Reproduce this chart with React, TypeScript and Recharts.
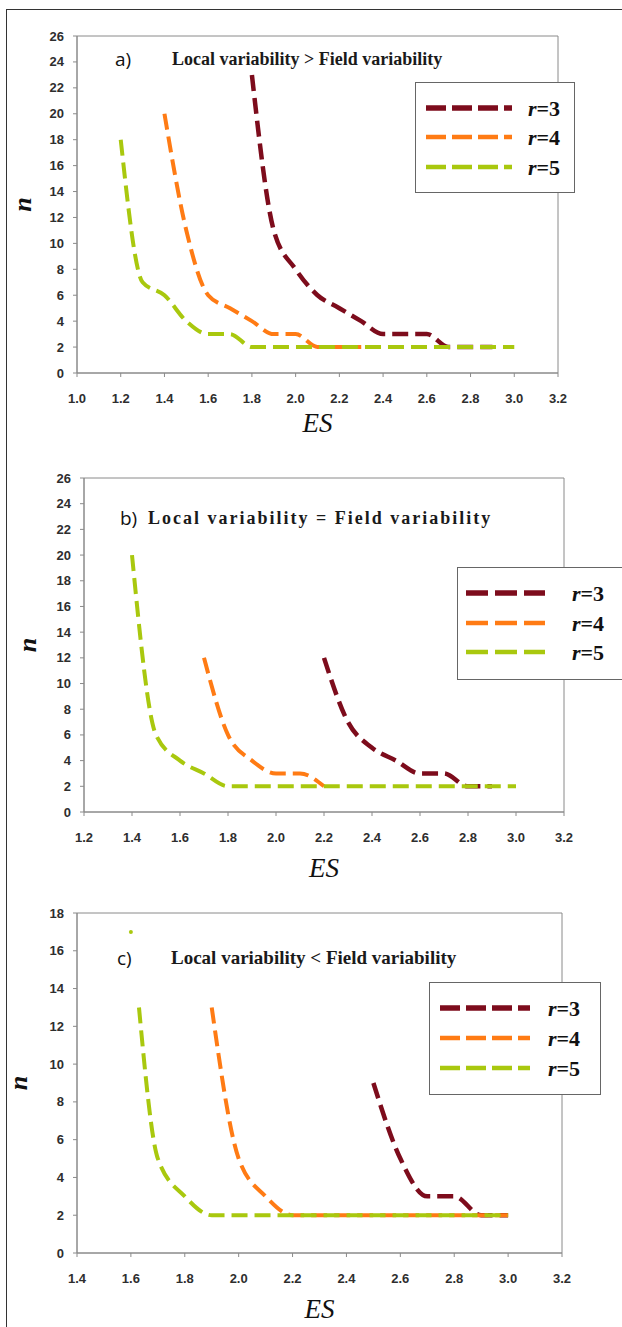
import * as React from "react";
import { LineChart, Line, XAxis, YAxis, ReferenceArea, Legend } from "recharts";

// panel a) Local variability > Field variability
const esA3 = [1.8, 1.9, 2.0, 2.1, 2.2, 2.3, 2.4, 2.5, 2.6, 2.7, 2.8, 2.9];
const nA3 = [23, 11, 8, 6, 5, 4, 3, 3, 3, 2, 2, 2];
const esA4 = [1.4, 1.5, 1.6, 1.7, 1.8, 1.9, 2.0, 2.1, 2.2, 2.3];
const nA4 = [20, 11, 6, 5, 4, 3, 3, 2, 2, 2];
const esA5 = [1.2, 1.3, 1.4, 1.5, 1.6, 1.7, 1.8, 1.9, 2.0, 2.1, 2.2, 2.3, 2.4, 2.5, 2.6, 2.7, 2.8, 2.9, 3.0];
const nA5 = [18, 7, 6, 4, 3, 3, 2, 2, 2, 2, 2, 2, 2, 2, 2, 2, 2, 2, 2];

// panel b) Local variability = Field variability
const esB3 = [2.2, 2.3, 2.4, 2.5, 2.6, 2.7, 2.8, 2.9];
const nB3 = [12, 7, 5, 4, 3, 3, 2, 2];
const esB4 = [1.7, 1.8, 1.9, 2.0, 2.1, 2.2];
const nB4 = [12, 6, 4, 3, 3, 2];
const esB5 = [1.4, 1.5, 1.6, 1.7, 1.8, 1.9, 2.0, 2.1, 2.2, 2.3, 2.4, 2.5, 2.6, 2.7, 2.8, 2.9, 3.0];
const nB5 = [20, 6, 4, 3, 2, 2, 2, 2, 2, 2, 2, 2, 2, 2, 2, 2, 2];

// panel c) Local variability < Field variability
const esC3 = [2.5, 2.6, 2.7, 2.8, 2.9, 3.0];
const nC3 = [9, 5, 3, 3, 2, 2];
const esC4 = [1.9, 2.0, 2.1, 2.2, 2.3, 2.4, 2.5, 2.6, 2.7, 2.8, 2.9, 3.0];
const nC4 = [13, 5, 3, 2, 2, 2, 2, 2, 2, 2, 2, 2];
const esC5 = [1.63, 1.7, 1.8, 1.9, 2.0, 2.1, 2.2, 2.3, 2.4, 2.5, 2.6, 2.7, 2.8, 2.9, 3.0];
const nC5 = [13, 5, 3, 2, 2, 2, 2, 2, 2, 2, 2, 2, 2, 2, 2];
const esC5dot = [1.6];
const nC5dot = [17];

const xTicksA = [1.0, 1.2, 1.4, 1.6, 1.8, 2.0, 2.2, 2.4, 2.6, 2.8, 3.0, 3.2];
const xTicksB = [1.2, 1.4, 1.6, 1.8, 2.0, 2.2, 2.4, 2.6, 2.8, 3.0, 3.2];
const xTicksC = [1.4, 1.6, 1.8, 2.0, 2.2, 2.4, 2.6, 2.8, 3.0, 3.2];
const yTicks26 = [0, 2, 4, 6, 8, 10, 12, 14, 16, 18, 20, 22, 24, 26];
const yTicks18 = [0, 2, 4, 6, 8, 10, 12, 14, 16, 18];

const seriesNames = ["r=3", "r=4", "r=5"];

const RED = "#7d0c1c";
const ORANGE = "#ff7b14";
const GREEN = "#a9c80e";
const AXIS = "#8a8a8a";
const SERIF = "'Liberation Serif', 'Times New Roman', serif";

const toPts = (es: number[], n: number[]) => es.map((e, i) => ({ es: e, n: n[i] }));

// bold grey tick labels like the original
const Tick = (props: any) => {
  const { x, y, payload, textAnchor, fmt } = props;
  const isX = textAnchor === "middle";
  return (
    <text x={x} y={y} dy={isX ? 9 : 0} textAnchor={textAnchor} dominantBaseline="central"
      fontFamily="'Liberation Sans', Arial, sans-serif" fontWeight="bold" fontSize={13} fill="#2e2e2e">
      {fmt ? fmt(payload.value) : payload.value}
    </text>
  );
};

function makeLegend(cfg: { w: number; h: number; rows: number[]; x1: number; x2: number; tx: number; dash: string }) {
  return (props: any) => {
    const items = (props.payload || []).filter((p: any) => p.type !== "none");
    return (
      <svg width={cfg.w} height={cfg.h} style={{ display: "block" }}>
        <rect x={0.5} y={0.5} width={cfg.w - 1} height={cfg.h - 1} fill="#fff" stroke="#666" />
        {items.map((p: any, i: number) => (
          <g key={p.value}>
            <line x1={cfg.x1} x2={cfg.x2} y1={cfg.rows[i]} y2={cfg.rows[i]} stroke={p.color}
              strokeWidth={i === 0 ? 5.5 : 4.5} strokeDasharray={cfg.dash} />
            <text x={cfg.tx} y={cfg.rows[i]} dominantBaseline="central" fontSize={22} fontWeight="bold"
              fontFamily={SERIF} fill="#111">
              <tspan fontStyle="italic">{p.value.slice(0, 1)}</tspan>{p.value.slice(1)}
            </text>
          </g>
        ))}
      </svg>
    );
  };
}

interface PanelProps {
  top: number;
  height: number;
  margin: { top: number; right: number; bottom: number; left: number };
  yWidth: number;
  xHeight: number;
  xTicks: number[];
  yTicks: number[];
  lines: { es: number[]; n: number[] }[];
  extraDot?: { es: number[]; n: number[] };
  legend: { left: number; top: number; w: number; h: number; rows: number[]; x1: number; x2: number; tx: number; dash: string };
  nX: number;
  esBase: number;
  tag: string;
  tagX: number;
  title: string;
  titleX: number;
  titleY: number;
  titleSize: number;
  titleSpacing: number;
}

const WIDTH = 622;

const Panel = (p: PanelProps) => {
  const plotH = p.height - p.margin.top - p.margin.bottom - p.xHeight;
  const plotW = WIDTH - p.margin.left - p.margin.right - p.yWidth;
  const cy = p.margin.top + plotH / 2;
  const cx = p.margin.left + p.yWidth + plotW / 2;
  const colors = [RED, ORANGE, GREEN];
  const xMin = p.xTicks[0];
  const xMax = p.xTicks[p.xTicks.length - 1];
  const yMax = p.yTicks[p.yTicks.length - 1];
  return (
    <div style={{ position: "absolute", left: 0, top: p.top, width: WIDTH, height: p.height }}>
      <LineChart width={WIDTH} height={p.height} margin={p.margin}>
        <XAxis type="number" dataKey="es" domain={[xMin, xMax]} ticks={p.xTicks}
          stroke={AXIS} tickSize={4} tickMargin={12}
          tick={<Tick fmt={(v: number) => v.toFixed(1)} />} height={p.xHeight} interval={0}
          label={{
            content: () => (
              <text x={cx} y={p.esBase} textAnchor="middle" fontSize={27} fontStyle="italic"
                fontFamily={SERIF} fill="#111">ES</text>
            ),
          }} />
        <YAxis type="number" domain={[0, yMax]} ticks={p.yTicks} stroke={AXIS} tickSize={4}
          tickMargin={9} tick={<Tick />} width={p.yWidth} interval={0}
          label={{
            content: () => (
              <text x={p.nX} y={cy} transform={`rotate(-90 ${p.nX} ${cy})`} textAnchor="middle"
                dominantBaseline="central" fontSize={26} fontStyle="italic" fontWeight={700}
                fontFamily={SERIF} fill="#111">n</text>
            ),
          }} />
        <ReferenceArea x1={xMin} x2={xMax} y1={0} y2={yMax} fill="none" stroke={AXIS} strokeWidth={1} ifOverflow="visible" />
        {p.lines.map((s, i) => (
          <Line key={seriesNames[i]} name={seriesNames[i]} data={toPts(s.es, s.n)} dataKey="n"
            type="monotone" stroke={colors[i]} strokeWidth={i === 0 ? 4.5 : 4}
            strokeDasharray="16 7" dot={false} activeDot={false} isAnimationActive={false} />
        ))}
        {p.extraDot && (
          <Line name="dot" legendType="none" data={toPts(p.extraDot.es, p.extraDot.n)} dataKey="n"
            stroke={GREEN} dot={{ r: 2, fill: GREEN, stroke: "none" }} activeDot={false} isAnimationActive={false} />
        )}
        <Legend layout="horizontal" verticalAlign="middle" align="center"
          wrapperStyle={{ left: p.legend.left, top: p.legend.top, width: p.legend.w, height: p.legend.h }}
          content={makeLegend(p.legend)} />
      </LineChart>
      <div style={{ position: "absolute", left: p.tagX, top: p.titleY - 12, lineHeight: "24px", fontSize: 19,
        fontFamily: "'Open Sans', 'Noto Sans', sans-serif", color: "#111" }}>{p.tag}</div>
      <div style={{ position: "absolute", left: p.titleX, top: p.titleY - 11, lineHeight: "22px", fontSize: p.titleSize,
        fontWeight: 700, whiteSpace: "nowrap", letterSpacing: p.titleSpacing,
        fontFamily: SERIF, color: "#1a1a1a" }}>{p.title}</div>
    </div>
  );
};

export default function App() {
  return (
    <div style={{ position: "absolute", left: 0, top: 0, width: WIDTH, height: 1327, overflow: "hidden", background: "#fff" }}>
      <div style={{ position: "absolute", left: 6, top: 9, width: 700, height: 1400,
        borderLeft: "1px solid #333", borderTop: "1px solid #333" }} />
      <Panel top={0} height={445} margin={{ top: 36, right: 64, bottom: 12, left: 0 }} yWidth={77} xHeight={60}
        xTicks={xTicksA} yTicks={yTicks26}
        lines={[{ es: esA3, n: nA3 }, { es: esA4, n: nA4 }, { es: esA5, n: nA5 }]}
        legend={{ left: 415, top: 82, w: 160, h: 111, rows: [26, 55, 85], x1: 11, x2: 97, tx: 113, dash: "20 6" }}
        nX={22} esBase={432} tag="a)" tagX={115} title="Local variability > Field variability" titleX={172} titleY={59}
        titleSize={18} titleSpacing={0} />
      <Panel top={445} height={440} margin={{ top: 33, right: 58, bottom: 8, left: 0 }} yWidth={84} xHeight={65}
        xTicks={xTicksB} yTicks={yTicks26}
        lines={[{ es: esB3, n: nB3 }, { es: esB4, n: nB4 }, { es: esB5, n: nB5 }]}
        legend={{ left: 457, top: 122, w: 170, h: 113, rows: [26, 56, 85], x1: 9, x2: 88, tx: 115, dash: "22 7" }}
        nX={27} esBase={432} tag="b)" tagX={120} title="Local variability = Field variability" titleX={148} titleY={73}
        titleSize={18} titleSpacing={2} />
      <Panel top={885} height={442} margin={{ top: 28, right: 60, bottom: 6, left: 0 }} yWidth={77} xHeight={68}
        xTicks={xTicksC} yTicks={yTicks18}
        lines={[{ es: esC3, n: nC3 }, { es: esC4, n: nC4 }, { es: esC5, n: nC5 }]}
        extraDot={{ es: esC5dot, n: nC5dot }}
        legend={{ left: 429, top: 97, w: 172, h: 113, rows: [26, 56, 86], x1: 11, x2: 101, tx: 119, dash: "20 6" }}
        nX={18} esBase={433} tag="c)" tagX={117} title="Local variability < Field variability" titleX={171} titleY={73}
        titleSize={19} titleSpacing={0} />
    </div>
  );
}
